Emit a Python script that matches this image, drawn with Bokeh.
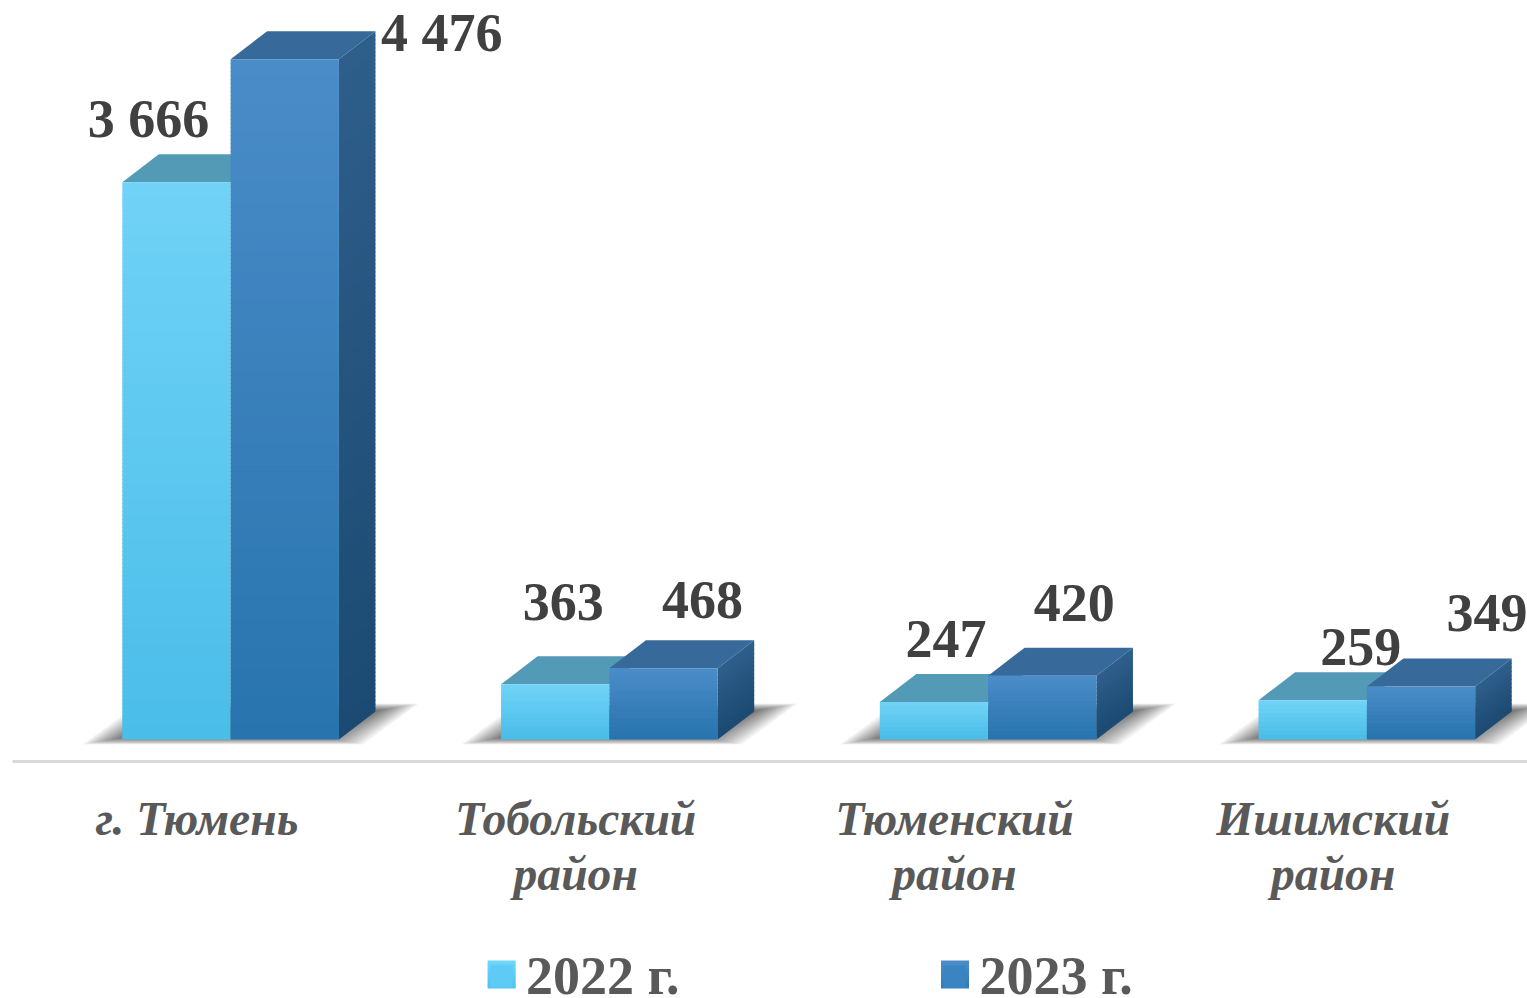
from bokeh.plotting import figure
from bokeh.layouts import column
from bokeh.models import ColumnDataSource, Range1d, FixedTicker, Legend, LegendItem
from bokeh.core.properties import value
from bokeh.embed import file_html
from bokeh.resources import INLINE

# ---- data ----
categories = ["г. Тюмень", "Тобольский\nрайон", "Тюменский\nрайон", "Ишимский\nрайон"]
series_names = ["2022 г.", "2023 г."]
values_2022 = [3666, 363, 247, 259]
values_2023 = [4476, 468, 420, 349]
labels_2022 = ["3 666", "363", "247", "259"]
labels_2023 = ["4 476", "468", "420", "349"]

# ---- layout (hand-placed data label offsets, screen px) ----
offsets_2022 = [(-28, -63), (8, -82), (12, -63), (48, -53)]
offsets_2023 = [(157, -26), (39, -68), (32, -73), (66, -73)]
tick_pos = [0.487, 1.487, 2.487, 3.487]

PXX = 1 / 378.75        # data x per px
PXY = 1 / 0.152         # value per px
BAR_W = 108.3 * PXX
START = 0.29
DX = 36.5 * PXX
DY = 28 * PXY
STRIP_PX = 4
MAIN_H = 940
LEG_H = 58
LEG_FRAME_LEFT = 13.3   # where the legend strip's frame starts on the page


def lerp(c0, c1, t):
    a = [int(c0[i:i + 2], 16) for i in (1, 3, 5)]
    b = [int(c1[i:i + 2], 16) for i in (1, 3, 5)]
    return "#%02x%02x%02x" % tuple(round(p + (q - p) * t) for p, q in zip(a, b))


def strip_count(v):
    return max(8, int(v / PXY / STRIP_PX))


p = figure(width=1527, height=MAIN_H, output_backend="svg", toolbar_location=None,
           x_range=Range1d(0, 4), y_range=Range1d(-22 * PXY, 739 * PXY),
           y_axis_location=None,
           min_border_left=12, min_border_right=0, min_border_top=0, min_border_bottom=MAIN_H - 761,
           background_fill_color="white", border_fill_color="white", outline_line_color=None)
p.grid.visible = False

ax = p.xaxis[0]
ax.ticker = FixedTicker(ticks=tick_pos)
ax.major_label_overrides = dict(zip(tick_pos, categories))
ax.major_tick_line_color = None
ax.minor_tick_line_color = None
ax.axis_line_color = "#d9d9d9"
ax.axis_line_width = 3
ax.major_label_text_font = "Liberation Serif"
ax.major_label_text_font_style = "bold italic"
ax.major_label_text_font_size = "47.6px"
ax.major_label_text_color = "#595959"
ax.major_label_text_line_height = 1.07
ax.major_label_standoff = 25
ax.major_label_orientation = "horizontal"

# floor shadows: stacked translucent parallelograms standing in for the blur
for k in range(16):
    xs, ys = [], []
    for i in range(len(categories)):
        left = i + START - (40 - 2.6 * k) * PXX
        right = i + START + 2 * BAR_W + (24 - 2.6 * k) * PXX
        bot = (-5 + 0.45 * k) * PXY
        top = (36 - 0.45 * k) * PXY
        xs.append([left, right, right + 56 * PXX, left + 56 * PXX])
        ys.append([bot, bot, top, top])
    p.patches(xs, ys, fill_color="black", fill_alpha=0.045, line_color=None)


def front(vals, x_off, c_top, c_bot):
    x0, x1, y1, y0, col = [], [], [], [], []
    for i, v in enumerate(vals):
        n = strip_count(v)
        for k in range(n):
            x0.append(i + x_off)
            x1.append(i + x_off + BAR_W)
            y1.append(v * (1 - k / n))
            y0.append(max(0, v * (1 - (k + 1) / n) - PXY))
            col.append(lerp(c_top, c_bot, k / (n - 1)))
    src = ColumnDataSource(dict(left=x0, right=x1, top=y1, bottom=y0, color=col))
    p.quad(left="left", right="right", top="top", bottom="bottom", source=src,
           fill_color="color", line_color=None)


def top_face(vals, x_off, color):
    xs, ys = [], []
    for i, v in enumerate(vals):
        a = i + x_off
        xs.append([a, a + BAR_W, a + BAR_W + DX, a + DX])
        ys.append([v, v, v + DY, v + DY])
    p.patches(xs, ys, fill_color=color, line_color=None)


def side_face(vals, x_off, c_top, c_bot):
    xs, ys, col = [], [], []
    for i, v in enumerate(vals):
        a = i + x_off + BAR_W
        n = strip_count(v)
        for k in range(n):
            h1 = v * (1 - k / n)
            h0 = max(0, v * (1 - (k + 1) / n) - PXY)
            xs.append([a, a + DX, a + DX, a])
            ys.append([h0, h0 + DY, h1 + DY, h1])
            col.append(lerp(c_top, c_bot, k / (n - 1)))
    p.patches(xs, ys, fill_color=col, line_color=None)


# 2022 bars, then 2023 bars in front of them
OFF_22, OFF_23 = START, START + BAR_W
top_face(values_2022, OFF_22, "#529ab5")
front(values_2022, OFF_22, "#70d2f6", "#4abde9")
top_face(values_2023, OFF_23, "#376a9a")
side_face(values_2023, OFF_23, "#2e5e8a", "#1b4a72")
front(values_2023, OFF_23, "#4a8cc8", "#2874ae")


def data_labels(vals, texts, x_off, offs):
    src = ColumnDataSource(dict(x=[i + x_off + BAR_W / 2 for i in range(len(vals))], y=vals, t=texts,
                                dx=[o[0] for o in offs], dy=[o[1] for o in offs]))
    p.text("x", "y", text="t", x_offset="dx", y_offset="dy", source=src,
           text_font=value("Liberation Serif"), text_font_style="bold", text_font_size="54px",
           text_color="#404040", text_align="center", text_baseline="alphabetic")


data_labels(values_2022, labels_2022, OFF_22, offsets_2022)
data_labels(values_2023, labels_2023, OFF_23, offsets_2023)

# ---- legend strip: page pixels as its coordinates ----
q = figure(width=1527, height=LEG_H, output_backend="svg", toolbar_location=None,
           x_range=Range1d(LEG_FRAME_LEFT, 1527), y_range=Range1d(0, LEG_H),
           x_axis_location=None, y_axis_location=None,
           min_border_left=0, min_border_right=0, min_border_top=0, min_border_bottom=0,
           background_fill_color="white", border_fill_color="white", outline_line_color=None)
q.grid.visible = False


def swatch(x0, c_top, c_bot):
    n = 14
    y_hi, y_lo = 38, 10
    src = ColumnDataSource(dict(left=[x0] * n, right=[x0 + 28] * n,
                                top=[y_hi - (y_hi - y_lo) * k / n for k in range(n)],
                                bottom=[max(y_lo, y_hi - (y_hi - y_lo) * (k + 1) / n - 0.5) for k in range(n)],
                                color=[lerp(c_top, c_bot, k / (n - 1)) for k in range(n)]))
    return q.quad(left="left", right="right", top="top", bottom="bottom", source=src,
                  fill_color="color", line_color=None, level="overlay")


s22 = swatch(488, "#70d6fb", "#4cc2ef")
s23 = swatch(941, "#4a8cc8", "#2e7dbc")

legend = Legend(items=[LegendItem(label=series_names[0], renderers=[s22], index=7),
                       LegendItem(label=series_names[1], renderers=[s23], index=7)],
                orientation="horizontal", location=(int(488 - LEG_FRAME_LEFT) + 1, -9), spacing=261, padding=0, margin=0,
                glyph_width=28, glyph_height=28, label_standoff=11,
                label_text_font="Liberation Serif", label_text_font_style="bold",
                label_text_font_size="54px", label_text_color="#595959",
                border_line_color=None, background_fill_alpha=0)
q.add_layout(legend, "center")

page = column(p, q, spacing=0)
open("out.html", "w").write(file_html(page, INLINE))
